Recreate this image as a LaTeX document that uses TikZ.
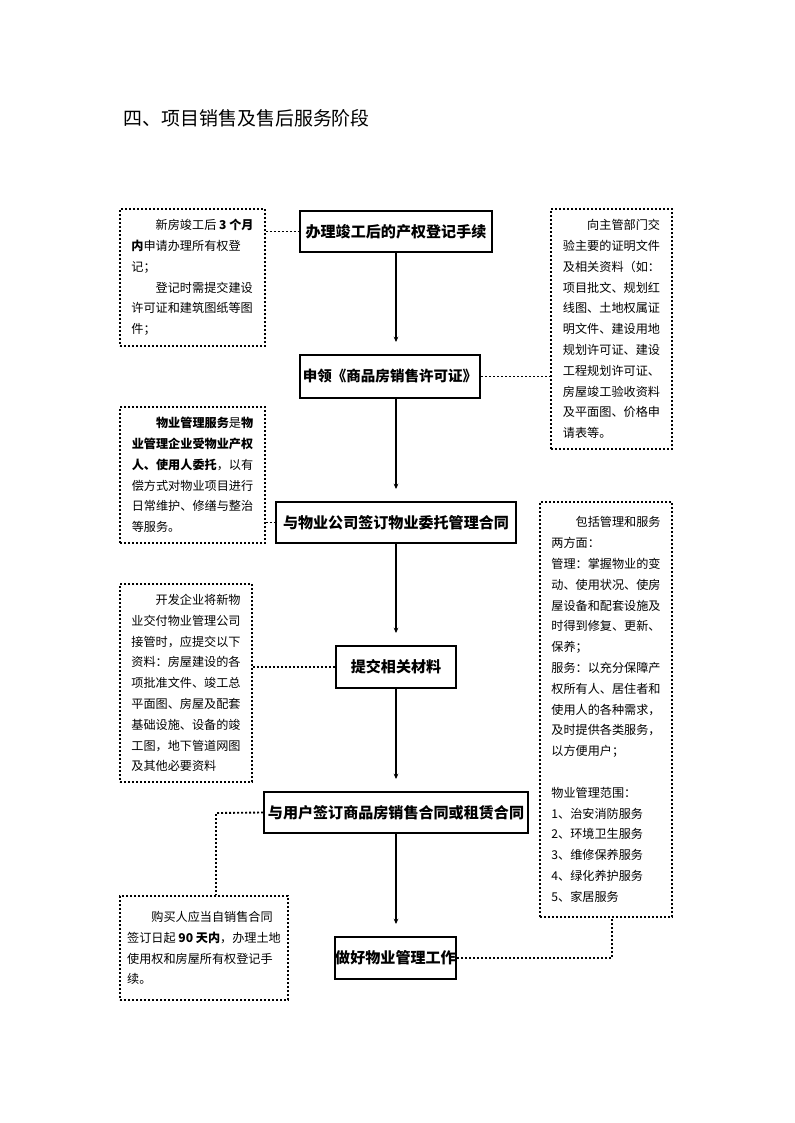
\documentclass[tikz,border=0pt]{standalone}
\usepackage{fontspec}
\setmainfont{Noto Sans CJK SC}
\usetikzlibrary{arrows.meta}

\newcommand{\ind}{\hspace*{2em}}

\begin{document}
\begin{tikzpicture}[x=0.75pt, y=-0.75pt,
    stage/.style={draw, line width=1.5pt, inner sep=0pt, font=\fontsize{11.3pt}{13pt}\selectfont\bfseries},
    memo/.style={draw, line width=1.4pt, dash pattern=on 1.4pt off 1.6pt, inner sep=0pt, align=left, font=\fontsize{9.1pt}{15.6pt}\selectfont},
    link/.style={line width=1.4pt, dash pattern=on 1.4pt off 1.6pt},
    flow/.style={line width=1.2pt, -{Stealth[length=4pt, width=3.5pt]}, shorten >=9pt}]
    \useasboundingbox (0,0) rectangle (794,1123);

    \node[anchor=west, font=\fontsize{14.2pt}{16pt}\selectfont] (title) at (119,118) {四、项目销售及售后服务阶段};

    % main steps
    \node[stage, minimum width=144pt, minimum height=30.75pt] (chanquan) at (396,231.5) {办理竣工后的产权登记手续};
    \node[stage, minimum width=135pt, minimum height=32.25pt, font=\fontsize{10.9pt}{13pt}\selectfont\bfseries] (xuke) at (390,376.5) {申领《商品房销售许可证》};
    \node[stage, minimum width=180pt, minimum height=30.75pt] (weituo) at (396,522.5) {与物业公司签订物业委托管理合同};
    \node[stage, minimum width=90pt, minimum height=31.5pt] (cailiao) at (396,667) {提交相关材料};
    \node[stage, minimum width=198pt, minimum height=30.75pt] (hetong) at (396,812.5) {与用户签订商品房销售合同或租赁合同};
    \node[stage, minimum width=90.75pt, minimum height=31.5pt] (guanli) at (395.5,958) {做好物业管理工作};

    % notes
    \node[memo, minimum width=108.75pt, minimum height=102.75pt] (note-chanquan) at (192.5,277.5)
      {\ind 新房竣工后 \textbf{3 个月}\\
       \textbf{内}申请办理所有权登\\
       记；\\
       \ind 登记时需提交建设\\
       许可证和建筑图纸等图\\
       件；};
    \node[memo, minimum width=90.75pt, minimum height=180pt] (note-xuke) at (611.5,329)
      {\ind 向主管部门交\\
       验主要的证明文件\\
       及相关资料（如：\\
       项目批文、规划红\\
       线图、土地权属证\\
       明文件、建设用地\\
       规划许可证、建设\\
       工程规划许可证、\\
       房屋竣工验收资料\\
       及平面图、价格申\\
       请表等。};
    \node[memo, minimum width=108.75pt, minimum height=102pt] (note-weituo) at (192.5,475)
      {\ind \textbf{物业管理服务}是\textbf{物}\\
       \textbf{业管理企业受物业产权}\\
       \textbf{人、使用人委托}，以有\\
       偿方式对物业项目进行\\
       日常维护、修缮与整治\\
       等服务。};
    \node[memo, minimum width=99pt, minimum height=311.25pt] (note-fanwei) at (606,709.5)
      {\ind 包括管理和服务\\
       两方面：\\
       管理：掌握物业的变\\
       动、使用状况、使房\\
       屋设备和配套设施及\\
       时得到修复、更新、\\
       保养；\\
       服务：以充分保障产\\
       权所有人、居住者和\\
       使用人的各种需求，\\
       及时提供各类服务，\\
       以方便用户；\\[15.6pt]
       物业管理范围：\\
       1、治安消防服务\\
       2、环境卫生服务\\
       3、维修保养服务\\
       4、绿化养护服务\\
       5、家居服务};
    \node[memo, minimum width=99pt, minimum height=148.5pt] (note-cailiao) at (186,683)
      {\ind 开发企业将新物\\
       业交付物业管理公司\\
       接管时，应提交以下\\
       资料：房屋建设的各\\
       项批准文件、竣工总\\
       平面图、房屋及配套\\
       基础设施、设备的竣\\
       工图，地下管道网图\\
       及其他必要资料};
    \node[memo, minimum width=126pt, minimum height=78pt] (note-goumai) at (204,948)
      {\ind 购买人应当自销售合同\\
       签订日起 \textbf{90 天内}，办理土地\\
       使用权和房屋所有权登记手\\
       续。};

    % arrows
    \draw[flow] (chanquan.south) -- (chanquan.south |- xuke.north);
    \draw[flow] (chanquan.south |- xuke.south) -- (weituo.north);
    \draw[flow] (weituo.south) -- (cailiao.north);
    \draw[flow] (cailiao.south) -- (hetong.north);
    \draw[flow] (hetong.south) -- (hetong.south |- guanli.north);

    % dotted links
    \coordinate (turn-goumai) at (216,813);
    \coordinate (turn-fanwei) at (612,958);
    \draw[link] (note-chanquan.east |- chanquan.west) -- (chanquan.west);
    \draw[link] (xuke.east) -- (xuke.east -| note-xuke.west);
    \draw[link] (note-weituo.east |- weituo.west) -- (weituo.west);
    \draw[link] (note-cailiao.east |- cailiao.west) -- (cailiao.west);
    \draw[link] (hetong.west) -- (turn-goumai) -- (turn-goumai |- note-goumai.north);
    \draw[link] (guanli.east) -- (turn-fanwei) -- (turn-fanwei |- note-fanwei.south);
\end{tikzpicture}
\end{document}
